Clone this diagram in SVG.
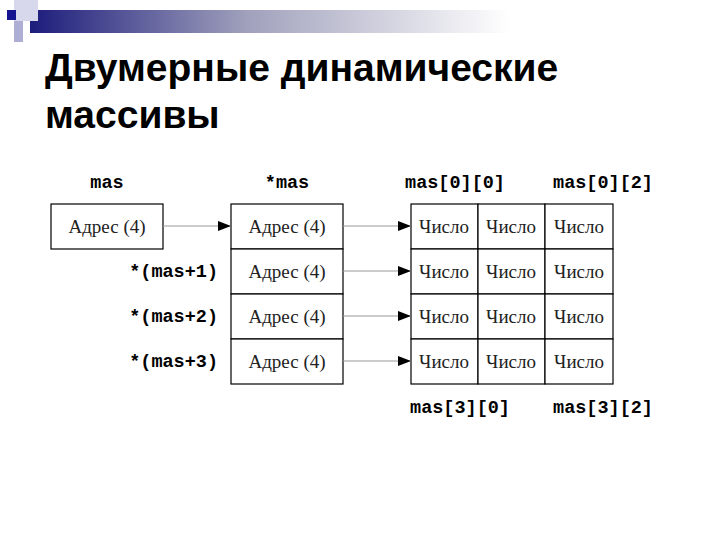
<svg xmlns="http://www.w3.org/2000/svg" width="720" height="540" viewBox="0 0 720 540">
<defs>
<linearGradient id="g" x1="0" x2="1" y1="0" y2="0"><stop offset="0" stop-color="#1c1c7c"/><stop offset="0.45" stop-color="#a0a0bc"/><stop offset="1" stop-color="#ffffff"/></linearGradient>
<marker id="a" markerWidth="13" markerHeight="10" refX="13" refY="5" orient="auto" markerUnits="userSpaceOnUse"><path d="M0,0 L13,5 L0,10 z" fill="#000"/></marker>
<style>
.b{fill:#fff;stroke:#000;stroke-width:1.2}
.t{font-family:"Liberation Serif",serif;font-size:19px;fill:#222;text-anchor:middle}
.m{font-family:"Liberation Mono",monospace;font-size:18.5px;font-weight:bold;fill:#000}
.c{stroke:#999;stroke-width:1.2;fill:none;marker-end:url(#a)}
</style>
</defs>
<rect width="720" height="540" fill="#fff"/>
<rect x="30" y="10" width="480" height="23" fill="url(#g)"/>
<rect x="14" y="0" width="24" height="21" fill="#d8d8ec"/>
<rect x="14" y="21" width="9" height="21" fill="#aeaed4"/>
<rect x="7" y="10" width="9" height="10" fill="#141490"/>
<text x="45" y="81" font-family="Liberation Sans,sans-serif" font-size="39" font-weight="bold" fill="#000">Двумерные динамические</text>
<text x="45" y="128" font-family="Liberation Sans,sans-serif" font-size="39" font-weight="bold" fill="#000">массивы</text>
<g id="labels">
<text class="m" x="107" y="188" text-anchor="middle">mas</text>
<text class="m" x="287" y="188" text-anchor="middle">*mas</text>
<text class="m" x="455" y="188" text-anchor="middle">mas[0][0]</text>
<text class="m" x="603" y="188" text-anchor="middle">mas[0][2]</text>
<text class="m" x="218" y="277" text-anchor="end">*(mas+1)</text>
<text class="m" x="218" y="322" text-anchor="end">*(mas+2)</text>
<text class="m" x="218" y="367" text-anchor="end">*(mas+3)</text>
<text class="m" x="460" y="413" text-anchor="middle">mas[3][0]</text>
<text class="m" x="603" y="413" text-anchor="middle">mas[3][2]</text>
</g>
<g id="mas"><rect class="b" x="51" y="204" width="112" height="45"/><text class="t" x="107" y="233">Адрес (4)</text></g>
<g id="ptrs">
<rect class="b" x="231" y="204" width="112" height="45"/><text class="t" x="287" y="233">Адрес (4)</text>
<rect class="b" x="231" y="249" width="112" height="45"/><text class="t" x="287" y="278">Адрес (4)</text>
<rect class="b" x="231" y="294" width="112" height="45"/><text class="t" x="287" y="323">Адрес (4)</text>
<rect class="b" x="231" y="339" width="112" height="45"/><text class="t" x="287" y="368">Адрес (4)</text>
</g>
<g id="grid">
<rect class="b" x="411" y="204" width="67" height="45"/><rect class="b" x="478" y="204" width="67" height="45"/><rect class="b" x="545" y="204" width="68" height="45"/>
<rect class="b" x="411" y="249" width="67" height="45"/><rect class="b" x="478" y="249" width="67" height="45"/><rect class="b" x="545" y="249" width="68" height="45"/>
<rect class="b" x="411" y="294" width="67" height="45"/><rect class="b" x="478" y="294" width="67" height="45"/><rect class="b" x="545" y="294" width="68" height="45"/>
<rect class="b" x="411" y="339" width="67" height="45"/><rect class="b" x="478" y="339" width="67" height="45"/><rect class="b" x="545" y="339" width="68" height="45"/>
<text class="t" x="444" y="233">Число</text><text class="t" x="511" y="233">Число</text><text class="t" x="579" y="233">Число</text>
<text class="t" x="444" y="278">Число</text><text class="t" x="511" y="278">Число</text><text class="t" x="579" y="278">Число</text>
<text class="t" x="444" y="323">Число</text><text class="t" x="511" y="323">Число</text><text class="t" x="579" y="323">Число</text>
<text class="t" x="444" y="368">Число</text><text class="t" x="511" y="368">Число</text><text class="t" x="579" y="368">Число</text>
</g>
<g id="connectors">
<line class="c" x1="163" y1="226" x2="231" y2="226"/>
<line class="c" x1="343" y1="226" x2="411" y2="226"/>
<line class="c" x1="343" y1="271" x2="411" y2="271"/>
<line class="c" x1="343" y1="316" x2="411" y2="316"/>
<line class="c" x1="343" y1="361" x2="411" y2="361"/>
</g>
</svg>
